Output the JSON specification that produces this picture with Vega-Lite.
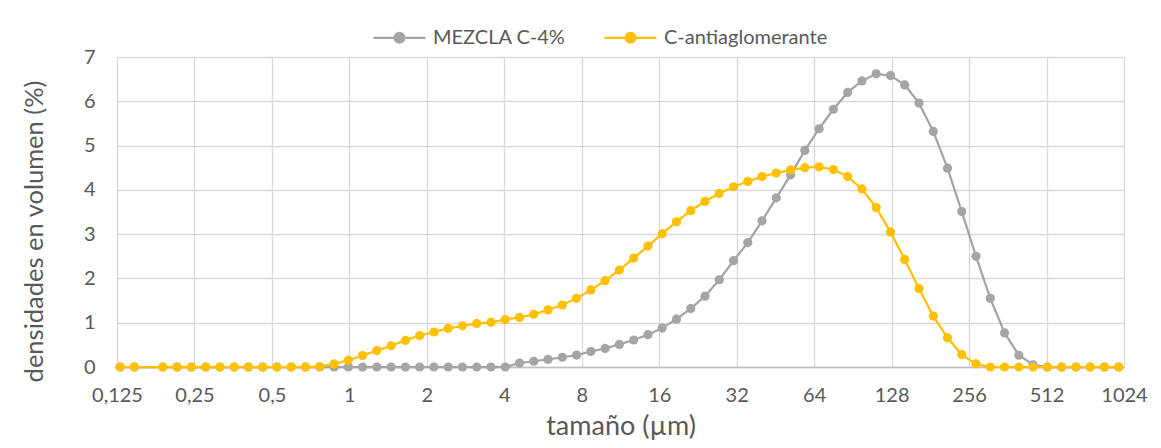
{
  "$schema": "https://vega.github.io/schema/vega-lite/v6.json",
  "width": 1161,
  "height": 448,
  "autosize": {"type": "fit", "contains": "padding"},
  "padding": {"left": 22, "top": 47, "right": 13, "bottom": 9},
  "background": "white",
  "config": {
    "view": {"stroke": null},
    "font": "Lato",
    "axis": {
      "labelColor": "#595959",
      "titleColor": "#595959",
      "labelFontSize": 20,
      "titleFontWeight": "normal",
      "gridColor": "#d9d9d9",
      "gridWidth": 1.3,
      "ticks": false
    },
    "legend": {
      "labelColor": "#595959",
      "labelFontSize": 20,
      "labelLimit": 0
    }
  },
  "data": {
    "values": [
      {"tamano": 0.1285, "MEZCLA C-4%": 0, "C-antiaglomerante": 0},
      {"tamano": 0.146, "MEZCLA C-4%": 0, "C-antiaglomerante": 0},
      {"tamano": 0.1884, "MEZCLA C-4%": 0, "C-antiaglomerante": 0},
      {"tamano": 0.2141, "MEZCLA C-4%": 0, "C-antiaglomerante": 0},
      {"tamano": 0.2432, "MEZCLA C-4%": 0, "C-antiaglomerante": 0},
      {"tamano": 0.2763, "MEZCLA C-4%": 0, "C-antiaglomerante": 0},
      {"tamano": 0.3139, "MEZCLA C-4%": 0, "C-antiaglomerante": 0},
      {"tamano": 0.3567, "MEZCLA C-4%": 0, "C-antiaglomerante": 0},
      {"tamano": 0.4052, "MEZCLA C-4%": 0, "C-antiaglomerante": 0},
      {"tamano": 0.4604, "MEZCLA C-4%": 0, "C-antiaglomerante": 0},
      {"tamano": 0.5231, "MEZCLA C-4%": 0, "C-antiaglomerante": 0},
      {"tamano": 0.5943, "MEZCLA C-4%": 0, "C-antiaglomerante": 0},
      {"tamano": 0.6752, "MEZCLA C-4%": 0, "C-antiaglomerante": 0},
      {"tamano": 0.7671, "MEZCLA C-4%": 0, "C-antiaglomerante": 0.01},
      {"tamano": 0.8715, "MEZCLA C-4%": 0, "C-antiaglomerante": 0.07},
      {"tamano": 0.9905, "MEZCLA C-4%": 0, "C-antiaglomerante": 0.15},
      {"tamano": 1.125, "MEZCLA C-4%": 0, "C-antiaglomerante": 0.26},
      {"tamano": 1.279, "MEZCLA C-4%": 0, "C-antiaglomerante": 0.37},
      {"tamano": 1.453, "MEZCLA C-4%": 0, "C-antiaglomerante": 0.48},
      {"tamano": 1.651, "MEZCLA C-4%": 0, "C-antiaglomerante": 0.6},
      {"tamano": 1.875, "MEZCLA C-4%": 0, "C-antiaglomerante": 0.71},
      {"tamano": 2.131, "MEZCLA C-4%": 0, "C-antiaglomerante": 0.79},
      {"tamano": 2.421, "MEZCLA C-4%": 0, "C-antiaglomerante": 0.87},
      {"tamano": 2.75, "MEZCLA C-4%": 0, "C-antiaglomerante": 0.93},
      {"tamano": 3.125, "MEZCLA C-4%": 0, "C-antiaglomerante": 0.98},
      {"tamano": 3.55, "MEZCLA C-4%": 0, "C-antiaglomerante": 1.01},
      {"tamano": 4.034, "MEZCLA C-4%": 0, "C-antiaglomerante": 1.07},
      {"tamano": 4.583, "MEZCLA C-4%": 0.09, "C-antiaglomerante": 1.12},
      {"tamano": 5.207, "MEZCLA C-4%": 0.13, "C-antiaglomerante": 1.19},
      {"tamano": 5.916, "MEZCLA C-4%": 0.17, "C-antiaglomerante": 1.29},
      {"tamano": 6.721, "MEZCLA C-4%": 0.22, "C-antiaglomerante": 1.4},
      {"tamano": 7.637, "MEZCLA C-4%": 0.27, "C-antiaglomerante": 1.55},
      {"tamano": 8.677, "MEZCLA C-4%": 0.35, "C-antiaglomerante": 1.74},
      {"tamano": 9.859, "MEZCLA C-4%": 0.42, "C-antiaglomerante": 1.95},
      {"tamano": 11.2, "MEZCLA C-4%": 0.51, "C-antiaglomerante": 2.19},
      {"tamano": 12.73, "MEZCLA C-4%": 0.61, "C-antiaglomerante": 2.46},
      {"tamano": 14.46, "MEZCLA C-4%": 0.73, "C-antiaglomerante": 2.73},
      {"tamano": 16.43, "MEZCLA C-4%": 0.88, "C-antiaglomerante": 3.01},
      {"tamano": 18.67, "MEZCLA C-4%": 1.08, "C-antiaglomerante": 3.28},
      {"tamano": 21.21, "MEZCLA C-4%": 1.32, "C-antiaglomerante": 3.53},
      {"tamano": 24.1, "MEZCLA C-4%": 1.6, "C-antiaglomerante": 3.74},
      {"tamano": 27.38, "MEZCLA C-4%": 1.97, "C-antiaglomerante": 3.92},
      {"tamano": 31.11, "MEZCLA C-4%": 2.4, "C-antiaglomerante": 4.07},
      {"tamano": 35.34, "MEZCLA C-4%": 2.81, "C-antiaglomerante": 4.19},
      {"tamano": 40.15, "MEZCLA C-4%": 3.3, "C-antiaglomerante": 4.3},
      {"tamano": 45.62, "MEZCLA C-4%": 3.82, "C-antiaglomerante": 4.38},
      {"tamano": 51.83, "MEZCLA C-4%": 4.34, "C-antiaglomerante": 4.45},
      {"tamano": 58.88, "MEZCLA C-4%": 4.89, "C-antiaglomerante": 4.5},
      {"tamano": 66.9, "MEZCLA C-4%": 5.38, "C-antiaglomerante": 4.52},
      {"tamano": 76.01, "MEZCLA C-4%": 5.82, "C-antiaglomerante": 4.46},
      {"tamano": 86.36, "MEZCLA C-4%": 6.2, "C-antiaglomerante": 4.3},
      {"tamano": 98.12, "MEZCLA C-4%": 6.46, "C-antiaglomerante": 4.02},
      {"tamano": 111.5, "MEZCLA C-4%": 6.62, "C-antiaglomerante": 3.6},
      {"tamano": 126.7, "MEZCLA C-4%": 6.58, "C-antiaglomerante": 3.05},
      {"tamano": 143.9, "MEZCLA C-4%": 6.37, "C-antiaglomerante": 2.43},
      {"tamano": 163.5, "MEZCLA C-4%": 5.96, "C-antiaglomerante": 1.77},
      {"tamano": 185.8, "MEZCLA C-4%": 5.32, "C-antiaglomerante": 1.15},
      {"tamano": 211.1, "MEZCLA C-4%": 4.49, "C-antiaglomerante": 0.66},
      {"tamano": 239.8, "MEZCLA C-4%": 3.51, "C-antiaglomerante": 0.28},
      {"tamano": 272.4, "MEZCLA C-4%": 2.5, "C-antiaglomerante": 0.07},
      {"tamano": 309.6, "MEZCLA C-4%": 1.55, "C-antiaglomerante": 0},
      {"tamano": 351.7, "MEZCLA C-4%": 0.77, "C-antiaglomerante": 0},
      {"tamano": 399.6, "MEZCLA C-4%": 0.265, "C-antiaglomerante": 0},
      {"tamano": 454, "MEZCLA C-4%": 0.05, "C-antiaglomerante": 0},
      {"tamano": 515.8, "MEZCLA C-4%": 0, "C-antiaglomerante": 0},
      {"tamano": 586, "MEZCLA C-4%": 0, "C-antiaglomerante": 0},
      {"tamano": 665.8, "MEZCLA C-4%": 0, "C-antiaglomerante": 0},
      {"tamano": 756.5, "MEZCLA C-4%": 0, "C-antiaglomerante": 0},
      {"tamano": 859.5, "MEZCLA C-4%": 0, "C-antiaglomerante": 0},
      {"tamano": 976.5, "MEZCLA C-4%": 0, "C-antiaglomerante": 0}
    ]
  },
  "transform": [
    {"fold": ["MEZCLA C-4%", "C-antiaglomerante"], "as": ["serie", "densidad"]}
  ],
  "encoding": {
    "x": {
      "field": "tamano",
      "type": "quantitative",
      "scale": {"type": "log", "base": 2, "domain": [0.125, 1024], "nice": false},
      "axis": {
        "title": "tamaño (µm)",
        "titleFontSize": 27,
        "values": [0.125, 0.25, 0.5, 1, 2, 4, 8, 16, 32, 64, 128, 256, 512, 1024],
        "labelExpr": "replace(toString(datum.value), '.', ',')",
        "labelPadding": 18,
        "titlePadding": 8,
        "domainColor": "#bfbfbf",
        "domainWidth": 1.5,
        "labelFlush": false,
        "labelOverlap": false
      }
    },
    "y": {
      "field": "densidad",
      "type": "quantitative",
      "scale": {"domain": [0, 7], "nice": false},
      "axis": {
        "title": "densidades en volumen (%)",
        "titleFontSize": 25.5,
        "titleY": 174,
        "values": [0, 1, 2, 3, 4, 5, 6, 7],
        "domain": false,
        "labelPadding": 22,
        "titlePadding": 36
      }
    },
    "color": {
      "field": "serie",
      "type": "nominal",
      "scale": {"domain": ["MEZCLA C-4%", "C-antiaglomerante"], "range": ["#a5a5a5", "#ffc000"]},
      "legend": {
        "title": null,
        "orient": "none",
        "direction": "horizontal",
        "legendX": 255,
        "legendY": -47,
        "columnPadding": 34,
        "symbolType": "M-1,0L-0.19,0M0.19,0L1,0M-0.19,0A0.19,0.19,0,1,1,0.19,0A0.19,0.19,0,1,1,-0.19,0Z",
        "symbolSize": 2704,
        "symbolStrokeWidth": 2.25,
        "labelOffset": 6,
        "labelLimit": 0,
        "encode": {
          "symbols": {
            "update": {
              "fill": {"scale": "color", "field": "value"},
              "stroke": {"scale": "color", "field": "value"},
              "opacity": {"value": 1}
            }
          }
        }
      }
    }
  },
  "layer": [
    {
      "transform": [{"filter": "datum.serie === 'MEZCLA C-4%'"}],
      "mark": {"type": "line", "strokeWidth": 2.25, "point": {"filled": true, "size": 85, "opacity": 1}}
    },
    {
      "transform": [{"filter": "datum.serie === 'C-antiaglomerante'"}],
      "mark": {"type": "line", "strokeWidth": 2.25, "point": {"filled": true, "size": 85, "opacity": 1}}
    }
  ]
}
